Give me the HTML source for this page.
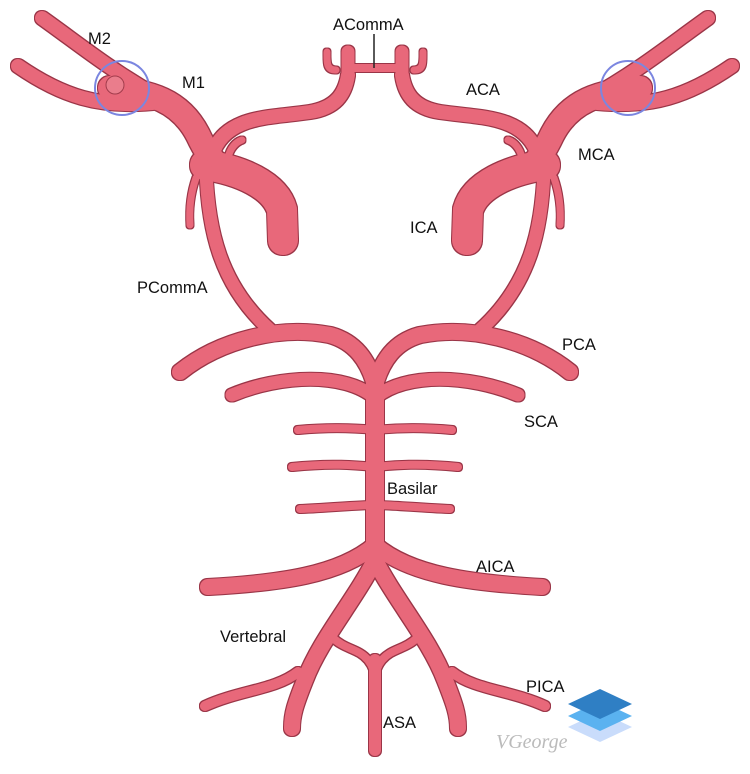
<!DOCTYPE html>
<html><head><style>body{margin:0;background:#fff}svg{display:block}text{font-family:"Liberation Sans",sans-serif;font-size:16.5px;fill:#111}</style></head><body>
<svg width="750" height="774" viewBox="0 0 750 774">
<defs>
<filter id="ol" x="-10%" y="-10%" width="120%" height="120%">
<feMorphology in="SourceGraphic" operator="dilate" radius="1.2"/>
</filter>
<g id="half">
<path d="M42,18 C80,45 110,70 160,98" stroke-width="14"/>
<path d="M18,66 C60,95 100,110 160,102" stroke-width="14"/>
<path d="M110,88 C150,92 180,100 198,135 C205,150 212,160 220,168" stroke-width="24"/>
<path d="M205,165 C240,170 275,185 282,210 L283,240" stroke-width="30"/>
<path d="M212,155 C225,115 270,118 310,112 C335,108 345,95 348,75" stroke-width="14"/>
<path d="M348,72 L348,52" stroke-width="13"/>
<path d="M336,70 C326,70 327,62 327,52" stroke-width="7"/>
<path d="M228,158 C230,148 236,142 242,140" stroke-width="7"/>
<path d="M196,178 C190,195 189,210 190,225" stroke-width="7"/>
<path d="M206,170 C208,230 220,285 270,330" stroke-width="13"/>
<path d="M180,372 C220,340 280,325 330,335 C355,342 368,360 375,385" stroke-width="16"/>
<path d="M232,395 C280,375 345,372 375,398" stroke-width="13"/>
<path d="M298,430 C330,427 355,428 375,430" stroke-width="8"/>
<path d="M292,467 C330,463 355,465 375,467" stroke-width="8"/>
<path d="M300,509 C330,508 355,505 375,505" stroke-width="8"/>
<path d="M208,587 C280,583 340,575 375,545" stroke-width="16"/>
<path d="M375,560 C355,600 320,640 305,680 C295,705 292,715 292,728" stroke-width="16"/>
<path d="M332,637 C345,650 358,648 368,660 C372,665 375,672 375,680" stroke-width="8"/>
<path d="M205,706 C240,690 275,690 298,672" stroke-width="10"/>
</g>
<g id="all"><use href="#half"/><use href="#half" transform="translate(750,0) scale(-1,1)"/>
<path d="M375,380 L375,560" stroke-width="18"/>
<path d="M375,660 L375,750" stroke-width="12"/>
<path d="M350,68 L400,68" stroke-width="8"/>
</g>
</defs>
<g filter="url(#ol)"><g fill="none" stroke="#9a3546" stroke-linecap="round"><use href="#all"/></g></g>
<g fill="none" stroke="#e8687a" stroke-linecap="round"><use href="#all"/></g>
<circle cx="115" cy="85" r="9" fill="#ea7d8c" stroke="#a23c4c"/>
<circle cx="122" cy="88" r="27" fill="none" stroke="#7b86e0" stroke-width="2"/>
<circle cx="628" cy="88" r="27" fill="none" stroke="#7b86e0" stroke-width="2"/>
<line x1="374" y1="34" x2="374" y2="68" stroke="#222" stroke-width="1.5"/>
<text x="333" y="30">ACommA</text>
<text x="88" y="44">M2</text>
<text x="182" y="88">M1</text>
<text x="466" y="95">ACA</text>
<text x="578" y="160">MCA</text>
<text x="410" y="233">ICA</text>
<text x="137" y="293">PCommA</text>
<text x="562" y="350">PCA</text>
<text x="524" y="427">SCA</text>
<text x="387" y="494">Basilar</text>
<text x="476" y="572">AICA</text>
<text x="220" y="642">Vertebral</text>
<text x="526" y="692">PICA</text>
<text x="383" y="728">ASA</text>
<text x="496" y="748" style="font-family:'Liberation Serif',serif;font-style:italic;font-size:20px;fill:#bbb">VGeorge</text>
<path d="M600,742 L632,727 L600,712 L568,727Z" fill="#c9dcfb"/>
<path d="M600,731 L632,716 L600,701 L568,716Z" fill="#5ab2f0"/>
<path d="M600,719 L632,704 L600,689 L568,704Z" fill="#2f7fc4"/>
</svg>
</body></html>
